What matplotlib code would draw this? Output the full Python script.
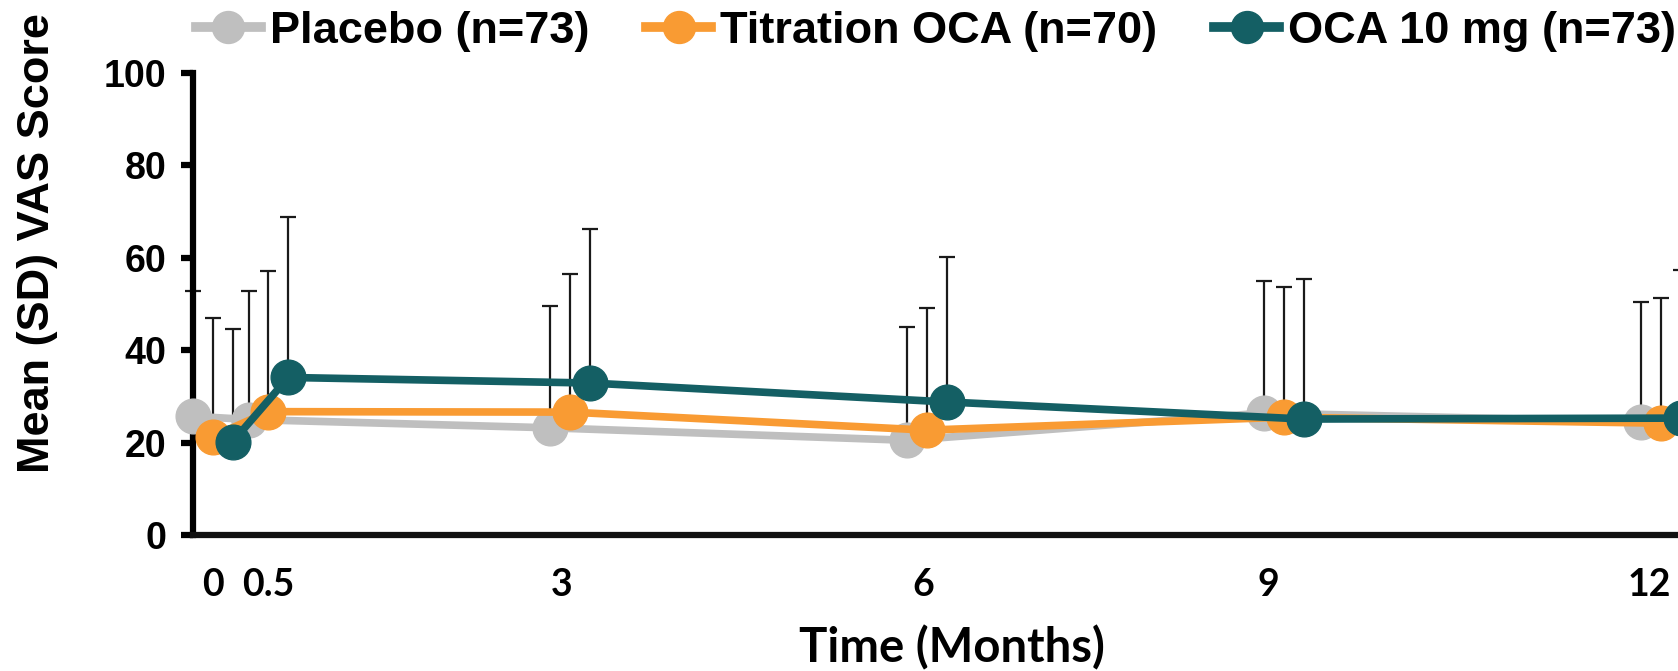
import matplotlib
matplotlib.use("Agg")
import matplotlib.pyplot as plt
import numpy as np

# ---- data ----
visit_days = [0, 14, 90, 180, 270, 365]          # visit times (days)
tick_days = [0, 14, 88, 179, 266, 362]           # where the month labels sit
tick_labels = ["0", "0.5", "3", "6", "9", "12"]  # months
series_names = ["Placebo (n=73)", "Titration OCA (n=70)", "OCA 10 mg (n=73)"]
placebo_mean = [25.7, 25.0, 23.2, 20.5, 26.4, 24.5]
placebo_sd = [27.1, 27.8, 26.4, 24.5, 28.6, 25.9]
titration_mean = [21.3, 26.7, 26.6, 22.7, 25.5, 24.2]
titration_sd = [25.7, 30.5, 29.9, 26.4, 28.2, 27.1]
oca10_mean = [20.2, 34.1, 32.9, 28.8, 25.1, 25.3]
oca10_sd = [24.4, 34.8, 33.3, 31.4, 30.3, 32.1]

colors = ["#BFBFBF", "#F99B33", "#145F64"]
offsets = [-5, 0, 5]  # dodge in days

fig = plt.figure(figsize=(16.78, 6.71), dpi=100)
ax = fig.add_axes([193 / 1678, 136 / 671, (1678 - 193) / 1678, 462 / 671])

means = [placebo_mean, titration_mean, oca10_mean]
sds = [placebo_sd, titration_sd, oca10_sd]
days = np.array(visit_days, dtype=float)

handles = []
for i, (m, s) in enumerate(zip(means, sds)):
    x = days + offsets[i]
    m = np.array(m)
    s = np.array(s)
    ax.errorbar(x, m, yerr=[np.zeros_like(s), s], fmt="none", ecolor="#1a1a1a",
                elinewidth=1.6, capsize=6, capthick=1.6, zorder=1.5, clip_on=False)
for i, m in enumerate(means):
    x = days + offsets[i]
    h, = ax.plot(x, m, "-o", color=colors[i], lw=5.5, ms=25, zorder=3 + i,
                 clip_on=False, label=series_names[i])
    handles.append(h)

ax.set_xlim(-5, 369.3)
ax.set_ylim(0, 100)
ax.set_yticks([0, 20, 40, 60, 80, 100])
ax.set_xticks(tick_days)
ax.set_xticklabels(tick_labels)

for sp in ["top", "right"]:
    ax.spines[sp].set_visible(False)
ax.spines["left"].set_linewidth(4.5)
ax.spines["bottom"].set_linewidth(4.5)
ax.spines["left"].set_color("black")
ax.spines["bottom"].set_color("#111111")

ax.tick_params(axis="y", length=9, width=4.5, direction="out", pad=10)
ax.tick_params(axis="x", length=0, pad=24)

for lab in ax.get_yticklabels():
    lab.set_fontfamily("Liberation Sans")
    lab.set_fontweight("bold")
    lab.set_fontsize(27)
for lab in ax.get_xticklabels():
    lab.set_fontfamily("Lato")
    lab.set_fontweight("bold")
    lab.set_fontsize(27)

fig.text(38 / 1678, 1 - 243 / 671, "Mean (SD) VAS Score", rotation=90,
         ha="center", va="center", fontsize=32.5, fontweight="bold",
         family="Liberation Sans")
fig.text(952 / 1678, 1 - 648 / 671, "Time (Months)", ha="center", va="center",
         fontsize=34, fontweight="bold", family="Lato")

leg = fig.legend(handles=handles, labels=series_names, loc="center",
                 bbox_to_anchor=(936 / 1678, 1 - 31 / 671), ncol=3, frameon=False,
                 handlelength=1.45, handletextpad=0.2, columnspacing=1.25,
                 prop={"family": "Liberation Sans", "weight": "bold", "size": 32.5},
                 borderaxespad=0, borderpad=0)
for lh in leg.legend_handles:
    lh.set_markersize(23)
    lh.set_linewidth(7)

fig.savefig("out.png", dpi=100)
